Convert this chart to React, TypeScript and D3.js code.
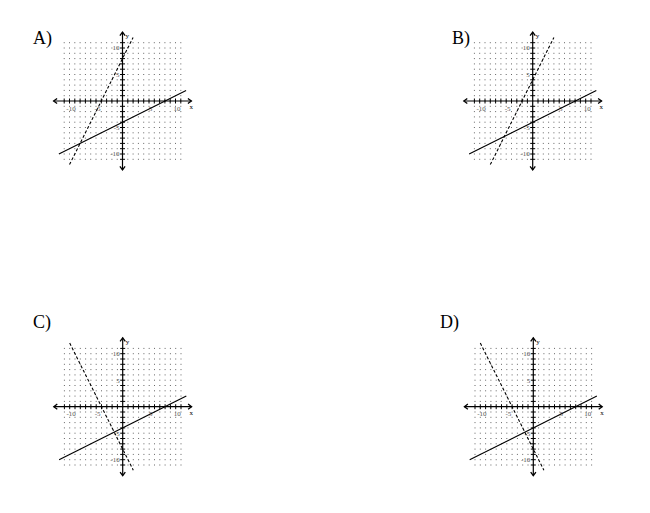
import * as d3 from "d3";
import { useEffect, useRef } from "react";

// panel labels and where each little graph sits on the page
const panelNames = ["A)", "B)", "C)", "D)"];
const panelOrigins: [number, number][] = [[122.5, 101], [532.7, 101], [122.7, 406.7], [533.3, 406.7]];
const labelPositions: [number, number][] = [[33, 44], [452, 44], [33, 328], [440, 328]];

// the two lines in every panel, end points
const solidLines: [number, number][][] = [
  [[-12, -10], [12, 2]],
  [[-12, -10], [12, 2]],
  [[-12, -10], [12, 2]],
  [[-12, -10], [12, 2]],
];
const dashedLines: [number, number][][] = [
  [[-10, -12], [2, 12]],
  [[-8, -12], [4, 12]],
  [[-10, 12], [2, -12]],
  [[-10, 12], [2, -12]],
];

const tickLabels = [-10, -5, 5, 10];
const gridMax = 11;
const axisMax = 13;

export default function App() {
  const ref = useRef<SVGSVGElement>(null);

  useEffect(() => {
    const svg = d3.select(ref.current);
    svg.selectAll("*").remove();

    const unit = 5.3;

    panelNames.forEach((name, i) => {
      const [ox, oy] = panelOrigins[i];
      const x = d3.scaleLinear().domain([-1, 1]).range([ox - unit, ox + unit]);
      const y = d3.scaleLinear().domain([-1, 1]).range([oy + unit, oy - unit]);

      svg.append("text")
        .attr("x", labelPositions[i][0])
        .attr("y", labelPositions[i][1])
        .attr("font-family", "Liberation Serif, serif")
        .attr("font-size", 18)
        .text(name);

      const g = svg.append("g");

      // dotted grid
      const grid = d3.range(-gridMax, gridMax + 1);
      const pts: [number, number][] = [];
      grid.forEach(a => grid.forEach(b => pts.push([a, b])));
      g.selectAll("rect.dot").data(pts).enter().append("rect")
        .attr("x", d => x(d[0]) - 0.5)
        .attr("y", d => y(d[1]) - 0.5)
        .attr("width", 1)
        .attr("height", 1)
        .attr("fill", "#666");

      // axes
      g.append("line")
        .attr("x1", x(-axisMax)).attr("x2", x(axisMax))
        .attr("y1", y(0)).attr("y2", y(0))
        .attr("stroke", "#000").attr("stroke-width", 1.2);
      g.append("line")
        .attr("x1", x(0)).attr("x2", x(0))
        .attr("y1", y(-axisMax)).attr("y2", y(axisMax))
        .attr("stroke", "#000").attr("stroke-width", 1.2);

      // arrow heads
      const head = (px: number, py: number, dx: number, dy: number) => {
        const a = 3.5, b = 2.6;
        const p = d3.path();
        p.moveTo(px - dx * a + dy * b, py - dy * a + dx * b);
        p.lineTo(px, py);
        p.lineTo(px - dx * a - dy * b, py - dy * a - dx * b);
        g.append("path").attr("d", p.toString())
          .attr("fill", "none").attr("stroke", "#000").attr("stroke-width", 1.3);
      };
      head(x(axisMax), y(0), 1, 0);
      head(x(-axisMax), y(0), -1, 0);
      head(x(0), y(axisMax), 0, -1);
      head(x(0), y(-axisMax), 0, 1);

      // tick marks
      const ticks = d3.range(-gridMax, gridMax + 1).filter(t => t !== 0);
      g.selectAll("line.tx").data(ticks).enter().append("line")
        .attr("x1", d => x(d)).attr("x2", d => x(d))
        .attr("y1", y(0) - 2.5).attr("y2", y(0) + 2.5)
        .attr("stroke", "#000").attr("stroke-width", 1);
      g.selectAll("line.ty").data(ticks).enter().append("line")
        .attr("y1", d => y(d)).attr("y2", d => y(d))
        .attr("x1", x(0) - 2.5).attr("x2", x(0) + 2.5)
        .attr("stroke", "#000").attr("stroke-width", 1);

      // tick labels
      g.selectAll("text.lx").data(tickLabels).enter().append("text")
        .attr("x", d => x(d) + 1.5)
        .attr("y", y(0) + 9.5)
        .attr("text-anchor", "middle")
        .attr("font-family", "Liberation Serif, serif")
        .attr("font-size", 7)
        .attr("fill", "#555")
        .text(d => d);
      g.selectAll("text.ly").data(tickLabels).enter().append("text")
        .attr("x", x(0) - 3)
        .attr("y", d => y(d) + 2.3)
        .attr("text-anchor", "end")
        .attr("font-family", "Liberation Serif, serif")
        .attr("font-size", 7)
        .attr("fill", "#555")
        .text(d => d);

      g.append("text")
        .attr("x", x(axisMax) - 2).attr("y", y(0) + 8)
        .attr("font-family", "Liberation Serif, serif")
        .attr("font-size", 7)
        .text("x");
      g.append("text")
        .attr("x", x(0) + 3).attr("y", y(axisMax) + 6)
        .attr("font-family", "Liberation Serif, serif")
        .attr("font-size", 7)
        .text("y");

      const line = d3.line<[number, number]>().x(d => x(d[0])).y(d => y(d[1]));
      g.append("path").attr("d", line(solidLines[i]))
        .attr("fill", "none").attr("stroke", "#000").attr("stroke-width", 1.1);
      g.append("path").attr("d", line(dashedLines[i]))
        .attr("fill", "none").attr("stroke", "#000").attr("stroke-width", 1.1)
        .attr("stroke-dasharray", "3,2");
    });
  }, []);

  return (
    <div style={{ position: "absolute", left: 0, top: 0 }}>
      <svg ref={ref} width={650} height={513} style={{ display: "block", background: "#fff" }}></svg>
    </div>
  );
}
